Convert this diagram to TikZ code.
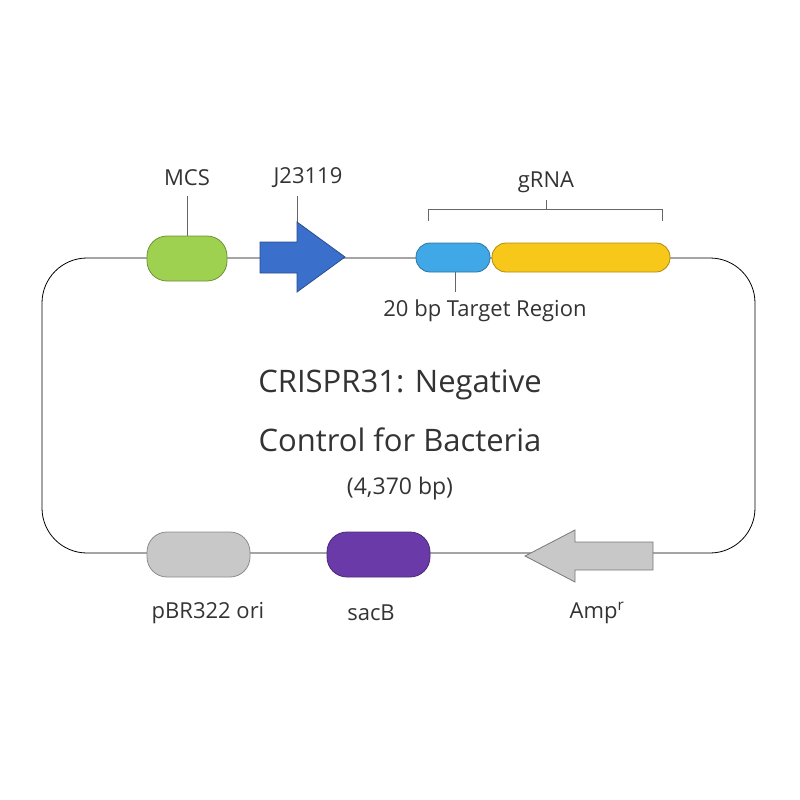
\documentclass[tikz,border=0pt]{standalone}
\usepackage{fontspec}
\setmainfont{Open Sans}
\begin{document}
\begin{tikzpicture}[x=1pt,y=-1pt,
 pill/.style={rounded corners=14pt,draw=#1!70!black,line width=0.8pt},
 lab/.style={font=\fontsize{22}{26}\selectfont,text=black!80},
 big/.style={font=\fontsize{31}{36}\selectfont,text=black!80}]
\definecolor{cg}{HTML}{9ED150}\definecolor{cb}{HTML}{3A6FCB}\definecolor{cl}{HTML}{40A8E6}
\definecolor{cy}{HTML}{F7C81A}\definecolor{cgr}{HTML}{C8C8C8}\definecolor{cp}{HTML}{6A3BA8}
\useasboundingbox (0,0) rectangle (800,800);
\draw[line width=0.8pt,rounded corners=45pt] (42,258) rectangle (755,553);
\draw[line width=0.8pt,black!60] (187,196)--(187,236);
\draw[line width=0.8pt,black!60] (297,196)--(297,236);
\filldraw[fill=cg,pill=cg,rounded corners=20pt] (147,236) rectangle (227,281);
\node[lab] (mcs) at (187,178) {MCS};
\filldraw[fill=cb,draw=cb!70!black,line width=0.8pt] (260,242)--(297,242)--(297,222)--(345,257)--(297,292)--(297,273)--(260,273)--cycle;
\node[lab] (j) at (308,178) {J23119};
\filldraw[fill=cl,pill=cl] (416,243) rectangle (490,272);
\filldraw[fill=cy,pill=cy] (492,243) rectangle (670,272);
\draw[line width=0.8pt,black!60] (428,221)--(428,209)--(662,209)--(662,221);
\draw[line width=0.8pt,black!60] (546,209)--(546,200);
\node[lab] (g) at (546,182) {gRNA};
\coordinate (t) at (455,272);
\node[lab] (tr) at (485,311) {20 bp Target Region};
\draw[line width=0.8pt,black!60] (t)--(455,292);
\node[big] at (400,385) {CRISPR31: Negative};
\node[big] at (400,440) {Control for Bacteria};
\node[lab,font=\fontsize{23}{27}\selectfont] at (400,489) {(4,370 bp)};
\filldraw[fill=cgr,pill=cgr,rounded corners=20pt] (147,532) rectangle (250,577);
\filldraw[fill=cp,pill=cp,rounded corners=20pt] (327,532) rectangle (430,577);
\filldraw[fill=cgr,draw=cgr!60!black,line width=0.8pt] (653,542)--(575,542)--(575,530)--(525,556)--(575,582)--(575,570)--(653,570)--cycle;
\node[lab] at (208,613) {pBR322 ori};
\node[lab] at (371,613) {sacB};
\node[lab] at (597,613) {Amp\textsuperscript{r}};
\end{tikzpicture}
\end{document}
